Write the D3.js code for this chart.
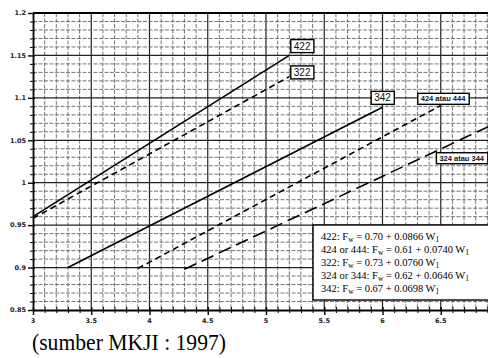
<!DOCTYPE html>
<html>
<head>
<meta charset="utf-8">
<script src="https://cdn.jsdelivr.net/npm/d3@7"></script>
<style>
  html, body { margin: 0; padding: 0; background: #fff; }
  svg { display: block; }
</style>
</head>
<body>
<script>
// ---- data ----
const xTicks = [3, 3.5, 4, 4.5, 5, 5.5, 6, 6.5];
const xTickLabels = ["3", "3.5", "4", "4.5", "5", "5.5", "6", "6.5"];
const yTicks = [0.85, 0.9, 0.95, 1, 1.05, 1.1, 1.15, 1.2];
const yTickLabels = ["0.85", "0.9", "0.95", "1", "1.05", "1.1", "1.15", "1.2"];

const seriesNames = ["422", "322", "342", "424 atau 444", "324 atau 344"];
const seriesStart = [[3.0, 0.960], [3.0, 0.958], [3.3, 0.900], [3.9, 0.899], [4.3, 0.898]];
const seriesEnd   = [[5.2, 1.150], [5.2, 1.125], [6.0, 1.089], [6.5, 1.091], [7.0, 1.072]];
const seriesDash  = ["none", "6,4", "none", "6,4", "13,6"];
const labelPos    = [[5.31, 1.161], [5.31, 1.130], [6.0, 1.100], [6.52, 1.099], [6.92, 1.029]];

const legendLabels = ["422: ", "424 or 444: ", "322: ", "324 or 344: ", "342: "];
const legendA = ["0.70", "0.61", "0.73", "0.62", "0.67"];
const legendB = ["0.0866", "0.0740", "0.0760", "0.0646", "0.0698"];
const caption = "(sumber MKJI : 1997)";

// ---- layout ----
const W = 488, H = 358;
const svg = d3.select("body").append("svg").attr("width", W).attr("height", H);

const x = d3.scaleLinear().domain([3, 7]).range([33, 499]);
const y = d3.scaleLinear().domain([0.85, 1.2]).range([310, 13]);

const g = svg.append("g");

// grid
const xMinor = d3.range(30, 71).map(v => v / 10);
const yMinor = d3.range(85, 121).map(v => v / 100);
const isMajX = v => Math.abs(v * 2 - Math.round(v * 2)) < 1e-6;
const isMajY = v => Math.abs(v * 20 - Math.round(v * 20)) < 1e-6;

g.append("g").selectAll("line").data(xMinor.filter(v => v > 3)).join("line")
  .attr("x1", d => x(d)).attr("x2", d => x(d))
  .attr("y1", y(1.2)).attr("y2", y(0.85))
  .attr("stroke", d => isMajX(d) ? "#222" : "#666")
  .attr("stroke-width", d => isMajX(d) ? 1.2 : 0.9)
  .attr("stroke-dasharray", d => isMajX(d) ? "none" : "4,1.5");

g.append("g").selectAll("line").data(yMinor.filter(v => v > 0.85 && v < 1.2)).join("line")
  .attr("x1", x(3)).attr("x2", W)
  .attr("y1", d => y(d)).attr("y2", d => y(d))
  .attr("stroke", d => isMajY(d) ? "#222" : "#666")
  .attr("stroke-width", d => isMajY(d) ? 1.2 : 0.9)
  .attr("stroke-dasharray", d => isMajY(d) ? "none" : "4,1.5");

// frame
g.append("line").attr("x1", x(3)).attr("x2", W).attr("y1", y(1.2)).attr("y2", y(1.2))
  .attr("stroke", "#000").attr("stroke-width", 2);

// axes
const yAxis = d3.axisLeft(y).tickValues(yMinor).tickSize(0).tickFormat("");
const gy = g.append("g").attr("transform", `translate(${x(3)},0)`).call(yAxis);
gy.select(".domain").attr("stroke", "#000").attr("stroke-width", 1.8);
gy.selectAll(".tick line").attr("x1", d => isMajY(d) ? -5 : -3).attr("x2", 2)
  .attr("stroke", "#000").attr("stroke-width", d => isMajY(d) ? 1.4 : 1);

const xAxis = d3.axisBottom(x).tickValues(xMinor).tickSize(0).tickFormat("");
const gx = g.append("g").attr("transform", `translate(0,${y(0.85)})`).call(xAxis);
gx.select(".domain").attr("stroke", "#000").attr("stroke-width", 1.8);
gx.selectAll(".tick line").attr("y1", -3).attr("y2", d => isMajX(d) ? 5 : 3)
  .attr("stroke", "#000").attr("stroke-width", d => isMajX(d) ? 1.4 : 1);

// tick labels
g.append("g").selectAll("text").data(yTicks).join("text")
  .attr("x", x(3) - 7).attr("y", d => y(d)).attr("dy", "0.35em")
  .attr("text-anchor", "end")
  .attr("font-family", "DejaVu Sans, sans-serif").attr("font-size", 6.5).attr("font-weight", "bold")
  .attr("fill", "#222")
  .text((d, i) => yTickLabels[i]);

g.append("g").selectAll("text").data(xTicks).join("text")
  .attr("x", d => x(d)).attr("y", y(0.85) + 13)
  .attr("text-anchor", "middle")
  .attr("font-family", "DejaVu Sans, sans-serif").attr("font-size", 6.5).attr("font-weight", "bold")
  .attr("fill", "#222")
  .text((d, i) => xTickLabels[i]);

// series lines
const line = d3.line().x(d => x(d[0])).y(d => y(d[1]));
g.append("g").selectAll("path").data(seriesNames).join("path")
  .attr("d", (d, i) => line([seriesStart[i], seriesEnd[i]]))
  .attr("fill", "none").attr("stroke", "#000").attr("stroke-width", 1.6)
  .attr("stroke-dasharray", (d, i) => seriesDash[i]);

// series labels (boxed)
seriesNames.forEach((name, i) => {
  const small = name.length > 3;
  const lg = g.append("g");
  const t = lg.append("text")
    .attr("x", x(labelPos[i][0])).attr("y", y(labelPos[i][1])).attr("dy", "0.35em")
    .attr("text-anchor", "middle")
    .attr("font-family", "Liberation Sans, sans-serif")
    .attr("font-size", small ? 7.5 : 10)
    .attr("font-weight", small ? "bold" : "normal")
    .attr("fill", "#111")
    .text(name);
  if (i === 4) t.attr("text-anchor", "end").attr("x", W - 4);
  const bb = t.node().getBBox();
  lg.insert("rect", "text")
    .attr("x", bb.x - 3).attr("y", bb.y - 1)
    .attr("width", bb.width + 6).attr("height", bb.height + 2)
    .attr("fill", "#fff").attr("stroke", "#000").attr("stroke-width", 1.4);
});

// legend box
const lgX = 313, lgY = 225;
const leg = g.append("g");
leg.append("rect").attr("x", lgX).attr("y", lgY).attr("width", 185).attr("height", 75)
  .attr("fill", "#fff").attr("stroke", "#000").attr("stroke-width", 1.4);
legendLabels.forEach((lab, i) => {
  const t = leg.append("text")
    .attr("x", lgX + 8).attr("y", lgY + 15 + i * 13)
    .attr("font-family", "Liberation Serif, serif").attr("font-size", 10.5)
    .attr("fill", "#000");
  t.append("tspan").text(lab + "F");
  t.append("tspan").attr("font-size", 7.5).attr("dy", 1.5).text("w");
  t.append("tspan").attr("dy", -1.5).text(" = " + legendA[i] + " + " + legendB[i] + " W");
  t.append("tspan").attr("font-size", 7.5).attr("dy", 1.5).text("1");
});

// caption
svg.append("text").attr("x", 32).attr("y", 350)
  .attr("font-family", "Liberation Serif, serif").attr("font-size", 24)
  .attr("textLength", 194).attr("lengthAdjust", "spacingAndGlyphs")
  .attr("fill", "#000")
  .text(caption);
</script>
</body>
</html>
